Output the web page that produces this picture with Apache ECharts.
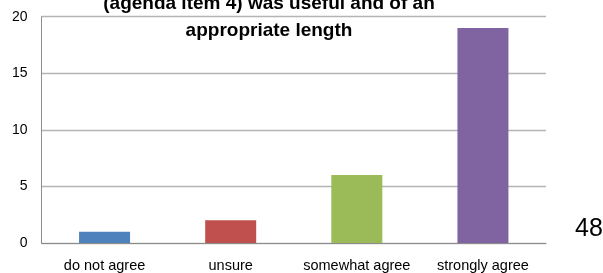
<!DOCTYPE html>
<html>
<head>
<meta charset="utf-8">
<script src="https://cdn.jsdelivr.net/npm/echarts@6/dist/echarts.min.js"></script>
<style>
html, body { margin: 0; padding: 0; background: #fff; }
#chart { width: 603px; height: 273px; }
</style>
</head>
<body>
<div id="chart"></div>
<script>
const categories = ['do not agree', 'unsure', 'somewhat agree', 'strongly agree'];
const values = [1, 2, 6, 19];
const barColors = ['#4f81bd', '#c0504d', '#9bbb59', '#8064a2'];
const yTicks = [0, 5, 10, 15, 20];
const titleLines = ['(agenda item 4) was useful and of an', 'appropriate length'];
const pageNumber = '48';

const font = '"Liberation Sans", Arial, sans-serif';
const axisColor = '#8c8c8c';
const gridColor = '#b4b4b4';

const chart = echarts.init(document.getElementById('chart'), null, { renderer: 'canvas' });
chart.setOption({
    animation: false,
    grid: { left: 41.5, right: 57, top: 16.7, bottom: 28.7, containLabel: false },
    xAxis: {
        type: 'category',
        data: categories,
        axisTick: { show: false },
        axisLine: { show: true, lineStyle: { color: axisColor } },
        axisLabel: {
            color: '#000', fontFamily: font, fontSize: 14.5, margin: 15,
            interval: 0, hideOverlap: false
        }
    },
    yAxis: {
        type: 'value',
        min: yTicks[0],
        max: yTicks[yTicks.length - 1],
        interval: 5,
        axisLine: { show: true, lineStyle: { color: axisColor } },
        axisTick: { show: false },
        splitLine: { show: true, lineStyle: { color: gridColor, width: 1.3 } },
        axisLabel: { color: '#000', fontFamily: font, fontSize: 14, margin: 14 }
    },
    series: [{
        type: 'bar',
        barWidth: 51,
        data: values.map((v, i) => ({ value: v, itemStyle: { color: barColors[i] } }))
    }],
    graphic: [
        {
            type: 'text', x: 269, y: 4,
            style: {
                text: titleLines[0], font: 'bold 19px ' + font, fill: '#000',
                align: 'center', verticalAlign: 'middle'
            }
        },
        {
            type: 'text', x: 269, y: 31,
            style: {
                text: titleLines[1], font: 'bold 19px ' + font, fill: '#000',
                align: 'center', verticalAlign: 'middle'
            }
        },
        {
            type: 'text', x: 575, y: 229,
            style: { text: pageNumber, font: '25px ' + font, fill: '#000', verticalAlign: 'middle' }
        }
    ]
});
</script>
</body>
</html>
